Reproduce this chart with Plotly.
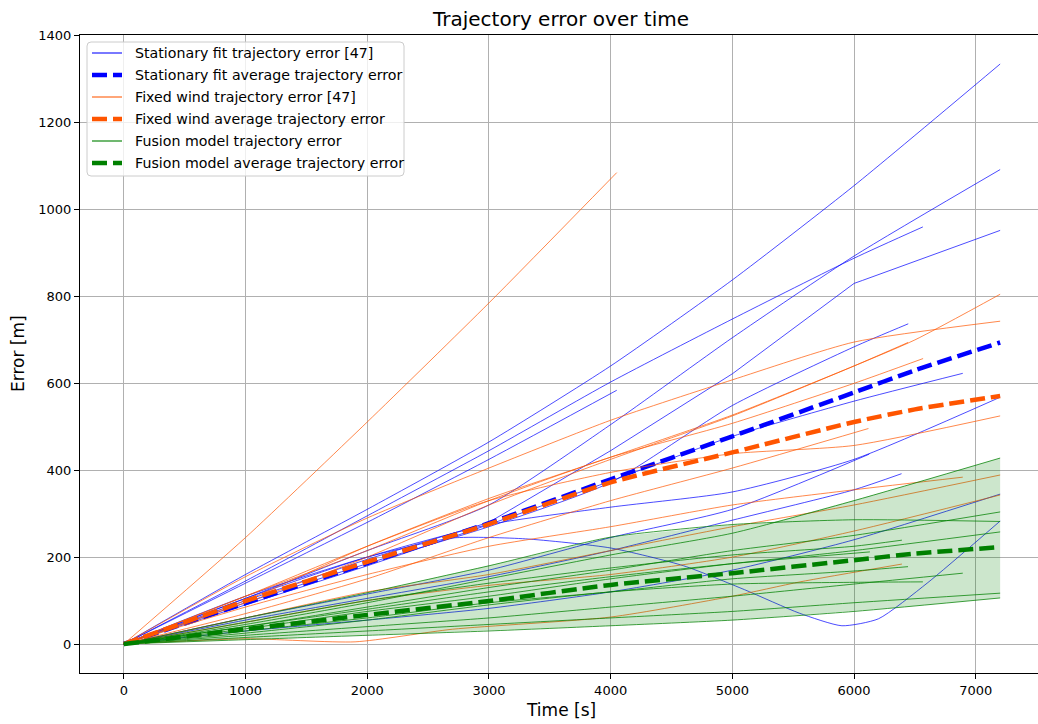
import numpy as np
import plotly.graph_objects as go

# ---- Stationary fit runs: (time [s], error [m]) ----
sf_01 = ([0, 1000, 2000, 3000, 4000, 5000, 6000, 7200], [0, 160, 310, 465, 640, 838, 1055, 1335])
sf_02 = ([0, 1000, 2000, 3000, 4000, 5000, 6000, 6565], [0, 145, 295, 445, 603, 748, 888, 960])
sf_03 = ([0, 1000, 2000, 3000, 4000, 5000, 6000, 7200], [0, 105, 215, 320, 505, 705, 893, 1092])
sf_04 = ([0, 1000, 2000, 3000, 4000, 5000, 6000, 6070, 7200], [0, 100, 195, 280, 445, 622, 830, 837, 952])
sf_05 = ([0, 1000, 2000, 3000, 4000, 5000, 6000, 6445], [0, 95, 185, 270, 372, 549, 684, 737])
sf_06 = ([0, 1000, 2000, 3000, 4000, 5000, 6000, 6893], [0, 90, 180, 275, 375, 478, 559, 623])
sf_07 = ([0, 1000, 2000, 3000, 4000, 5000, 6000, 7200], [0, 105, 200, 275, 315, 350, 425, 568])
sf_08 = ([0, 1000, 2000, 3000, 4050], [0, 140, 280, 425, 584])
sf_09 = ([0, 1000, 2000, 3000, 4000, 5000, 6125], [0, 60, 115, 170, 245, 310, 437])
sf_10 = ([0, 1000, 2000, 3000, 4000, 5000, 6000, 6390], [0, 55, 105, 155, 215, 285, 355, 392])
sf_11 = ([0, 1000, 2000, 3000, 4000, 5000, 6000, 7200], [0, 30, 55, 82, 120, 170, 240, 345])
sf_12 = ([0, 1000, 2000, 2700, 3300, 4000, 4600, 5100, 5550, 5900, 6200, 6600, 7200],
         [0, 110, 200, 244, 242, 221, 180, 125, 71, 42, 58, 140, 283])

# ---- Fixed wind runs ----
fw_01 = ([0, 1000, 2000, 3000, 4050], [0, 245, 511, 785, 1085])
fw_02 = ([0, 1000, 2000, 3000, 4000, 5000, 6000, 6500, 7200], [0, 100, 225, 335, 430, 527, 640, 700, 805])
fw_03 = ([0, 1000, 2000, 3000, 4000, 5000, 6000, 7200], [0, 155, 290, 405, 515, 608, 695, 743])
fw_04 = ([0, 1000, 2000, 3000, 4000, 5000, 6000, 6567], [0, 110, 215, 330, 430, 508, 600, 657])
fw_05 = ([0, 1000, 2000, 3000, 4000, 5000, 6000, 6443], [0, 95, 200, 320, 425, 525, 640, 694])
fw_06 = ([0, 1000, 2000, 3000, 4000, 5000, 6000, 7200], [0, 110, 225, 330, 395, 438, 457, 525])
fw_07 = ([0, 1000, 2000, 3000, 4000, 5000, 6118], [0, 70, 150, 245, 330, 405, 496])
fw_08 = ([0, 1000, 2000, 3000, 4000, 5000, 6000, 6893], [0, 85, 160, 225, 270, 320, 355, 384])
fw_09 = ([0, 1000, 2000, 3000, 4000, 5000, 6000, 7200], [0, 60, 120, 160, 215, 270, 320, 389])
fw_10 = ([0, 1000, 2000, 3000, 4000, 5000, 6000, 7200], [0, 50, 100, 135, 160, 200, 260, 343])
fw_11 = ([0, 1000, 1900, 2700, 4000, 5000, 5556, 6393], [0, 12, 5, 34, 62, 110, 143, 184])

# ---- Fusion model runs ----
fm_01 = ([0, 1000, 2000, 3000, 4000, 5000, 6000, 7200], [0, 45, 95, 150, 205, 255, 330, 428])
fm_02 = ([0, 1000, 2000, 3000, 4000, 5000, 6000, 7200], [0, 60, 118, 180, 246, 275, 286, 282])
fm_03 = ([0, 1000, 2000, 3000, 4000, 5000, 6000, 7200], [0, 40, 85, 130, 170, 215, 250, 304])
fm_04 = ([0, 1000, 2000, 3000, 4000, 5000, 6000, 7200], [0, 35, 75, 110, 150, 185, 215, 258])
fm_05 = ([0, 1000, 2000, 3000, 4000, 5000, 6000, 6393], [0, 50, 100, 140, 175, 205, 225, 239])
fm_06 = ([0, 1000, 2000, 3000, 4000, 5000, 6130], [0, 40, 80, 120, 155, 185, 212])
fm_07 = ([0, 1000, 2000, 3000, 4000, 5000, 6000, 6443], [0, 30, 60, 95, 120, 150, 168, 178])
fm_08 = ([0, 1000, 2000, 3000, 4000, 5000, 6000, 6565], [0, 25, 55, 90, 120, 138, 142, 143])
fm_09 = ([0, 1000, 2000, 3000, 4000, 5000, 6000, 6893], [0, 20, 40, 60, 85, 110, 138, 163])
fm_10 = ([0, 1000, 2000, 3000, 4000, 5000, 6000, 7200], [0, 15, 30, 45, 60, 75, 95, 117])
fm_11 = ([0, 1000, 2000, 3000, 4000, 5000, 6000, 7200], [0, 10, 20, 30, 42, 55, 75, 106])

# ---- Average trajectories ----
avg_time = [0, 1000, 2000, 3000, 4000, 5000, 6000, 6500, 7200]
sf_avg = [0, 94, 186, 278, 379, 478, 579, 630, 694]
fw_avg = [0, 99, 189, 276, 372, 441, 511, 540, 571]
fm_avg = [0, 34, 67, 99, 136, 163, 193, 208, 223]

stationary_runs = [sf_01, sf_02, sf_03, sf_04, sf_05, sf_06, sf_07, sf_08, sf_09, sf_10, sf_11, sf_12]
fixed_wind_runs = [fw_01, fw_02, fw_03, fw_04, fw_05, fw_06, fw_07, fw_08, fw_09, fw_10, fw_11]
fusion_runs = [fm_01, fm_02, fm_03, fm_04, fm_05, fm_06, fm_07, fm_08, fm_09, fm_10, fm_11]
kinked_runs = [sf_04]  # this run has a sharp bend, keep it piecewise linear

BLUE = "rgb(0,0,255)"
BLUE_T = "rgba(0,0,255,0.7)"
ORANGE = "rgb(255,85,0)"
ORANGE_T = "rgba(255,85,0,0.7)"
GREEN = "rgb(0,128,0)"
GREEN_T = "rgba(0,128,0,0.75)"
GREEN_FILL = "rgba(0,128,0,0.2)"
DASH = "15px,6px"
FONT = "DejaVu Sans"

fig = go.Figure()


def add_runs(runs, color):
    for run in runs:
        t, e = run
        shape = dict(shape="linear") if any(run is k for k in kinked_runs) else dict(shape="spline", smoothing=0.6)
        fig.add_trace(go.Scatter(x=t, y=e, mode="lines", line=dict(color=color, width=1, **shape),
                                 showlegend=False, hoverinfo="skip"))


def add_avg(y, color):
    fig.add_trace(go.Scatter(x=avg_time, y=y, mode="lines",
                             line=dict(color=color, width=4.5, dash=DASH, shape="spline", smoothing=0.6),
                             showlegend=False, hoverinfo="skip"))


add_runs(stationary_runs, BLUE_T)
add_avg(sf_avg, BLUE)
add_runs(fixed_wind_runs, ORANGE_T)
add_avg(fw_avg, ORANGE)

# min/max envelope of the fusion runs
grid = np.arange(0, 7201, 50)
stack = []
for t, e in fusion_runs:
    v = np.interp(grid, t, e)
    v[grid > t[-1]] = np.nan
    stack.append(v)
stack = np.array(stack)
band_lo = np.nanmin(stack, axis=0)
band_hi = np.nanmax(stack, axis=0)
fig.add_trace(go.Scatter(x=grid, y=band_lo, mode="lines", line=dict(width=0),
                         showlegend=False, hoverinfo="skip"))
fig.add_trace(go.Scatter(x=grid, y=band_hi, mode="lines", line=dict(width=0), fill="tonexty",
                         fillcolor=GREEN_FILL, showlegend=False, hoverinfo="skip"))

add_runs(fusion_runs, GREEN_T)
add_avg(fm_avg, GREEN)

# ---- layout: plot area spans pixels x 80..1038, y 35..673 ----
W, H = 1038, 724
L, R, T, B = 80, 1038, 35, 673


def px(x):
    return (x - L) / (R - L)


def py(y):
    return (B - y) / (B - T)


axis_common = dict(showgrid=True, gridcolor="#b0b0b0", gridwidth=1, zeroline=False,
                   showline=True, linecolor="black", linewidth=1.2,
                   ticks="outside", ticklen=5, tickwidth=1, tickcolor="black",
                   tickfont=dict(family=FONT, size=13, color="black"))

fig.update_layout(
    width=W, height=H,
    margin=dict(l=L, r=W - R, t=T, b=H - B),
    paper_bgcolor="white", plot_bgcolor="white",
    font=dict(family=FONT, color="black"),
    title=dict(text="Trajectory error over time", x=561 / W, xanchor="center", xref="container",
               y=1 - 19 / H, yanchor="middle", yref="container",
               font=dict(family=FONT, size=20, color="black")),
    xaxis=dict(range=[-360, 7511], tickvals=list(range(0, 7001, 1000)), mirror=True, **axis_common),
    yaxis=dict(range=[-66.75, 1401.75], tickvals=list(range(0, 1401, 200)), **axis_common),
    showlegend=False,
)

# axis titles
fig.add_annotation(text="Time [s]", x=px(561), y=py(710), xref="paper", yref="paper",
                   showarrow=False, xanchor="center", yanchor="middle",
                   font=dict(family=FONT, size=17, color="black"))
fig.add_annotation(text="Error [m]", x=px(18), y=py(354), xref="paper", yref="paper",
                   showarrow=False, xanchor="center", yanchor="middle", textangle=-90,
                   font=dict(family=FONT, size=17, color="black"))

# legend box
x0, x1, y0, y1, r = px(87), px(404), py(42), py(176), 4
rx, ry = r / (R - L), r / (B - T)
path = (f"M {x0 + rx},{y0} L {x1 - rx},{y0} Q {x1},{y0} {x1},{y0 - ry} "
        f"L {x1},{y1 + ry} Q {x1},{y1} {x1 - rx},{y1} L {x0 + rx},{y1} Q {x0},{y1} {x0},{y1 + ry} "
        f"L {x0},{y0 - ry} Q {x0},{y0} {x0 + rx},{y0} Z")
fig.add_shape(type="path", path=path, xref="paper", yref="paper",
              fillcolor="rgba(255,255,255,0.8)", line=dict(color="#cccccc", width=1))

legend_items = [
    ("Stationary fit trajectory error [47]", BLUE_T, 1.5, "solid"),
    ("Stationary fit average trajectory error", BLUE, 4.5, DASH),
    ("Fixed wind trajectory error [47]", ORANGE_T, 1.5, "solid"),
    ("Fixed wind average trajectory error", ORANGE, 4.5, DASH),
    ("Fusion model trajectory error", GREEN_T, 1.5, "solid"),
    ("Fusion model average trajectory error", GREEN, 4.5, DASH),
]
for i, (label, color, width, dash) in enumerate(legend_items):
    yy = py(53 + 22 * i)
    fig.add_shape(type="line", x0=px(92), x1=px(122), y0=yy, y1=yy, xref="paper", yref="paper",
                  line=dict(color=color, width=width, dash=dash))
    fig.add_annotation(text=label, x=px(133), y=yy, xref="paper", yref="paper", showarrow=False,
                       xanchor="left", yanchor="middle",
                       font=dict(family=FONT, size=14.2, color="black"))

fig.write_html("out.html")
